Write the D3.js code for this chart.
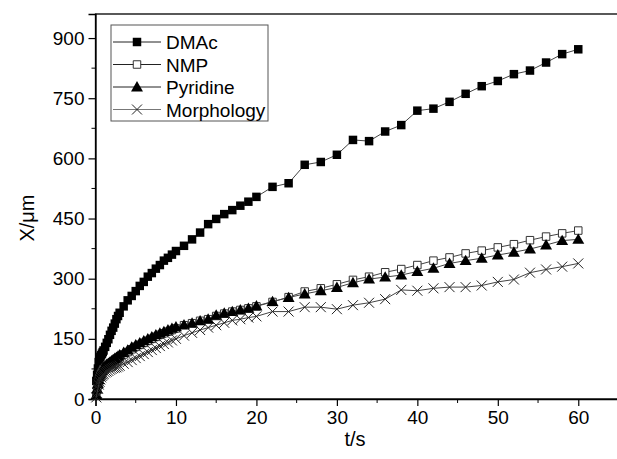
<!DOCTYPE html>
<html><head><meta charset="utf-8">
<script src="https://cdn.jsdelivr.net/npm/d3@7"></script>
<style>body{margin:0;background:#fff}svg{display:block}text{font-family:"Liberation Sans",Arial,sans-serif}</style>
</head><body><svg id="c" width="617" height="459"></svg>
<script>
const times = [0.1,0.2,0.3,0.4,0.5,0.6,0.7,0.8,0.9,1.0,
  1.2,1.4,1.6,1.8,2.0,2.2,2.4,2.6,2.8,3.0,
  3.5,4.0,4.5,5.0,5.5,6.0,6.5,7.0,7.5,8.0,8.5,9.0,9.5,10,
  11,12,13,14,15,16,17,18,19,20,22,24,26,28,30,32,34,36,38,40,42,44,46,48,50,52,54,56,58,60];
const dmac = [45,60,76,92,100,105,109,113,117,121,
  130,140,149,160,170,178,188,199,207,215,
  231,246,257,269,282,292,305,314,325,334,345,352,360,369,
  382,398,415,436,449,461,471,482,492,504,529,538,584,591,609,646,643,667,683,719,724,741,761,780,793,810,819,839,860,872];
const nmp = [8,22,34,44,52,58,63,67,71,74,
  78,82,85,88,91,94,97,100,102,105,
  111,117,124,130,135,140,145,150,155,160,164,168,172,176,
  184,189,195,199,207,213,218,222,226,231,242,254,268,276,286,297,305,316,324,334,345,353,363,370,378,386,396,405,413,420];
const pyridine = [10,25,38,48,56,62,67,71,75,78,
  82,86,89,92,95,98,101,104,107,110,
  116,122,129,135,140,145,150,155,160,164,168,172,176,180,
  185,189,195,199,209,214,218,222,226,232,243,253,262,270,278,290,299,304,309,318,326,338,345,351,359,366,374,384,395,398];
const morphology = [4,15,26,36,43,49,54,58,61,63,
  66,68,70,73,75,77,78,79,81,83,
  88,92,97,102,107,112,117,122,127,132,137,141,146,150,
  158,165,172,178,184,190,196,199,203,206,218,218,229,229,224,234,240,249,272,270,276,279,279,283,292,298,315,323,330,338];
const seriesNames = ["DMAc","NMP","Pyridine","Morphology"];
const xTicks = [0,10,20,30,40,50,60];
const yTicks = [0,150,300,450,600,750,900];

const svg = d3.select("#c");
const x = d3.scaleLinear().domain([0,65]).range([95.5,618.5]);
const y = d3.scaleLinear().domain([0,960]).range([399,14]);

// frame
svg.append("rect").attr("x",95.5).attr("y",14).attr("width",618.5-95.5).attr("height",399-14)
  .attr("fill","none").attr("stroke","#000").attr("stroke-width",1.3);

// axes
const xMinor = d3.range(5,65,10);
const yMinor = d3.range(75,960,150);
const gx = svg.append("g").attr("transform","translate(0,399)");
gx.call(d3.axisBottom(x).tickValues(xTicks).tickSize(7).tickPadding(5).tickFormat(d3.format("d")));
gx.append("g").selectAll("line").data(xMinor).join("line")
  .attr("x1",d=>x(d)).attr("x2",d=>x(d)).attr("y1",0).attr("y2",4).attr("stroke","#000");
const gy = svg.append("g").attr("transform","translate(95.5,0)");
gy.call(d3.axisLeft(y).tickValues(yTicks).tickSize(7).tickPadding(4).tickFormat(d3.format("d")));
gy.append("g").selectAll("line").data(yMinor).join("line")
  .attr("y1",d=>y(d)).attr("y2",d=>y(d)).attr("x1",0).attr("x2",-4).attr("stroke","#000");
[gx,gy].forEach(g=>{
  g.select(".domain").attr("stroke","#000").attr("stroke-width",1.3);
  g.selectAll(".tick line").attr("stroke","#000").attr("stroke-width",1.2);
  g.selectAll(".tick text").attr("font-size",19).attr("fill","#000")
    .attr("font-family","'Liberation Sans',Arial,sans-serif");
});

svg.append("text").attr("x",355).attr("y",446).attr("text-anchor","middle")
  .attr("font-size",20).text("t/s");
svg.append("text").attr("transform","translate(34,218) rotate(-90)").attr("text-anchor","middle")
  .attr("font-size",20).text("X/μm");

// markers
const sq = d3.symbol().type(d3.symbolSquare);
const tri = d3.symbol().type(d3.symbolTriangle);
function drawMarker(g, kind, cx, cy){
  if(kind==="DMAc") g.append("path").attr("d",sq.size(72)()).attr("transform",`translate(${cx},${cy})`).attr("fill","#000");
  else if(kind==="NMP") g.append("path").attr("d",sq.size(56)()).attr("transform",`translate(${cx},${cy})`)
      .attr("fill","#fff").attr("stroke","#333").attr("stroke-width",1);
  else if(kind==="Pyridine") g.append("path").attr("d",tri.size(62)()).attr("transform",`translate(${cx},${cy+1})`).attr("fill","#000");
  else g.append("path").attr("d","M-5,-5L5,5M-5,5L5,-5").attr("transform",`translate(${cx},${cy})`)
      .attr("stroke","#222").attr("stroke-width",1).attr("fill","none");
}
const seriesVals = {DMAc:dmac, NMP:nmp, Pyridine:pyridine, Morphology:morphology};
const line = d3.line().x(d=>x(d[0])).y(d=>y(d[1]));
seriesNames.forEach(name=>{
  const pts = times.map((t,i)=>[t,seriesVals[name][i]]);
  const g = svg.append("g");
  g.append("path").datum(pts).attr("d",line).attr("fill","none").attr("stroke","#444").attr("stroke-width",1);
  pts.forEach(p=>drawMarker(g,name,x(p[0]),y(p[1])));
});

// legend
const lg = svg.append("g");
lg.append("rect").attr("x",111).attr("y",25).attr("width",157).attr("height",96)
  .attr("fill","#fff").attr("stroke","#555").attr("stroke-width",1);
seriesNames.forEach((name,i)=>{
  const ly = 42 + i*22.5;
  lg.append("line").attr("x1",113).attr("x2",161).attr("y1",ly).attr("y2",ly)
    .attr("stroke",name==="Morphology"?"#777":"#222").attr("stroke-width",1);
  drawMarker(lg,name,137,ly);
  lg.append("text").attr("x",166).attr("y",ly+7).attr("font-size",19).text(name);
});
</script></body></html>
